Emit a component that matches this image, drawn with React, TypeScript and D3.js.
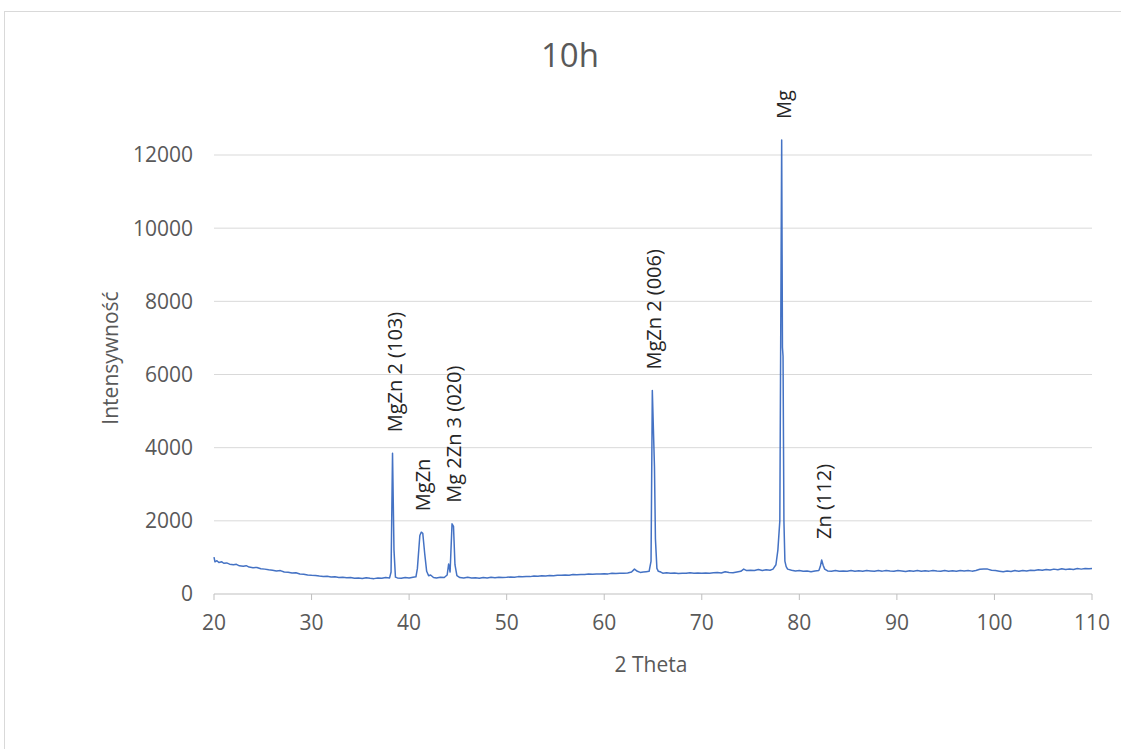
import React from "react";
import * as d3 from "d3";

// XRD scan after 10 h of milling: [2θ (deg), intensity (counts)]
const scan: [number, number][] = [
  [20.0, 1010], [20.1, 880], [20.3, 910], [20.5, 860], [20.8, 880], [21.0, 840], [21.3, 850], [21.6, 815],
  [22.0, 800], [22.3, 810], [22.6, 770], [23.0, 760], [23.3, 775], [23.6, 735], [24.0, 720], [24.4, 725],
  [24.8, 690], [25.2, 680], [25.6, 660], [26.0, 650], [26.4, 630], [26.8, 640], [27.2, 600], [27.6, 595],
  [28.0, 575], [28.4, 580], [28.8, 545], [29.2, 540], [29.6, 520], [30.0, 510], [30.4, 505], [30.8, 490],
  [31.2, 480], [31.6, 485], [32.0, 465], [32.4, 470], [32.8, 450], [33.2, 455], [33.6, 445], [34.0, 450],
  [34.4, 430], [34.8, 440], [35.2, 425], [35.6, 445], [36.0, 430], [36.4, 420], [36.8, 440], [37.2, 430],
  [37.6, 450], [38.0, 440], [38.15, 600], [38.3, 3845], [38.45, 1200], [38.6, 460], [38.8, 440], [39.2, 430],
  [39.6, 450], [40.0, 440], [40.4, 460], [40.7, 470], [40.85, 700], [41.1, 1600], [41.25, 1690], [41.4, 1660],
  [41.6, 1100], [41.8, 620], [42.0, 500], [42.2, 520], [42.5, 450], [42.8, 440], [43.2, 460], [43.6, 450],
  [43.9, 520], [44.05, 820], [44.2, 600], [44.4, 1920], [44.55, 1850], [44.7, 800], [44.9, 500], [45.2, 450],
  [45.6, 440], [46.0, 455], [46.4, 440], [46.8, 445], [47.2, 430], [47.6, 450], [48.0, 440], [48.4, 455],
  [48.8, 445], [49.2, 460], [49.6, 450], [50.0, 455], [50.4, 465], [50.8, 460], [51.2, 475], [51.6, 470],
  [52.0, 480], [52.4, 475], [52.8, 490], [53.2, 485], [53.6, 500], [54.0, 495], [54.4, 505], [54.8, 500],
  [55.2, 515], [55.6, 510], [56.0, 520], [56.4, 515], [56.8, 530], [57.2, 525], [57.6, 535], [58.0, 530],
  [58.4, 545], [58.8, 540], [59.2, 550], [59.6, 545], [60.0, 555], [60.4, 550], [60.8, 565], [61.2, 560],
  [61.6, 570], [62.0, 565], [62.4, 575], [62.8, 600], [63.1, 680], [63.4, 620], [63.7, 590], [64.0, 600],
  [64.3, 610], [64.6, 620], [64.8, 900], [64.93, 5560], [65.15, 3480], [65.25, 1500], [65.4, 700], [65.55, 620],
  [65.8, 600], [66.0, 570], [66.4, 580], [66.8, 570], [67.2, 575], [67.6, 560], [68.0, 570], [68.4, 565],
  [68.8, 580], [69.2, 570], [69.6, 575], [70.0, 565], [70.4, 575], [70.8, 570], [71.2, 580], [71.6, 590],
  [72.0, 575], [72.4, 610], [72.8, 590], [73.2, 580], [73.6, 600], [74.0, 620], [74.3, 680], [74.6, 640],
  [75.0, 650], [75.4, 640], [75.8, 670], [76.2, 640], [76.6, 660], [77.0, 650], [77.3, 680], [77.6, 800],
  [77.8, 1200], [78.0, 2000], [78.19, 12410], [78.27, 6740], [78.33, 6500], [78.42, 2000], [78.52, 900], [78.65, 750],
  [78.8, 680], [79.2, 650], [79.6, 630], [80.0, 640], [80.4, 620], [80.8, 630], [81.2, 610], [81.6, 630],
  [82.0, 640], [82.15, 750], [82.29, 930], [82.45, 780], [82.6, 680], [82.9, 630], [83.3, 620], [83.7, 640],
  [84.1, 620], [84.5, 630], [84.9, 625], [85.3, 640], [85.7, 620], [86.1, 635], [86.5, 625], [86.9, 640],
  [87.3, 630], [87.7, 620], [88.1, 640], [88.5, 625], [88.9, 645], [89.3, 630], [89.7, 620], [90.1, 640],
  [90.5, 630], [90.9, 615], [91.3, 635], [91.7, 625], [92.1, 640], [92.5, 620], [92.9, 635], [93.3, 625],
  [93.7, 645], [94.1, 630], [94.5, 620], [94.9, 640], [95.3, 625], [95.7, 635], [96.1, 620], [96.5, 640],
  [96.9, 630], [97.3, 645], [97.7, 625], [98.1, 640], [98.5, 675], [98.9, 685], [99.3, 680], [99.7, 650],
  [100.1, 640], [100.5, 625], [100.9, 610], [101.3, 630], [101.7, 615], [102.1, 640], [102.5, 620], [102.9, 645],
  [103.3, 630], [103.7, 650], [104.1, 640], [104.5, 660], [104.9, 650], [105.3, 670], [105.7, 655], [106.1, 680],
  [106.5, 665], [106.9, 690], [107.3, 670], [107.7, 685], [108.1, 670], [108.5, 695], [108.9, 680], [109.3, 700],
  [109.7, 690], [110.0, 700],
];

// Phase labels placed over their reflections: [label, 2θ, peak intensity]
const phaseLabels: [string, number, number][] = [
  ["MgZn 2 (103)", 38.3, 3845],
  ["MgZn", 41.25, 1690],
  ["Mg 2Zn 3 (020)", 44.4, 1920],
  ["MgZn 2 (006)", 64.93, 5560],
  ["Mg", 78.19, 12410],
  ["Zn (112)", 82.29, 930],
];

const xTicks = [20, 30, 40, 50, 60, 70, 80, 90, 100, 110];
const yTicks = [0, 2000, 4000, 6000, 8000, 10000, 12000];

const chartTitle = "10h";
const xTitle = "2 Theta";
const yTitle = "Intensywność";

const W = 1121;
const H = 749;
const FONT = "'Open Sans', 'Noto Sans', sans-serif";
const TEXT = "#595959";

export default function App() {
  const x = d3.scaleLinear().domain([20, 110]).range([214, 1092]);
  const y = d3.scaleLinear().domain([0, 12000]).range([594, 155]);
  const line = d3
    .line<[number, number]>()
    .x((d) => x(d[0]))
    .y((d) => y(d[1]));

  return (
    <svg
      width={W}
      height={H}
      style={{ position: "absolute", left: 0, top: 0, background: "#fff" }}
    >
      <rect x={4.5} y={11.5} width={W + 20} height={H + 20} fill="#fff" stroke="#d9d9d9" />
      <text x={570} y={67} textAnchor="middle" fontFamily={FONT} fontSize={33} fill={TEXT}>
        {chartTitle}
      </text>

      {yTicks.slice(1).map((t) => (
        <line key={`g${t}`} x1={x(20)} x2={x(110)} y1={y(t)} y2={y(t)} stroke="#d9d9d9" strokeWidth={1} />
      ))}
      <line x1={x(20)} x2={x(110)} y1={y(0)} y2={y(0)} stroke="#bfbfbf" strokeWidth={1} />
      {xTicks.map((t) => (
        <line key={`t${t}`} x1={x(t)} x2={x(t)} y1={y(0)} y2={y(0) + 6} stroke="#bfbfbf" strokeWidth={1} />
      ))}

      {yTicks.map((t) => (
        <text
          key={`yl${t}`}
          x={193}
          y={y(t)}
          dy="0.35em"
          textAnchor="end"
          fontFamily={FONT}
          fontSize={21}
          fill={TEXT}
        >
          {t}
        </text>
      ))}
      {xTicks.map((t) => (
        <text
          key={`xl${t}`}
          x={x(t)}
          y={623}
          dy="0.35em"
          textAnchor="middle"
          fontFamily={FONT}
          fontSize={21}
          fill={TEXT}
        >
          {t}
        </text>
      ))}

      <text x={651} y={665} dy="0.35em" textAnchor="middle" fontFamily={FONT} fontSize={21} fill={TEXT}>
        {xTitle}
      </text>
      <text
        transform={`translate(111, 358) rotate(-90)`}
        dy="0.35em"
        textAnchor="middle"
        fontFamily={FONT}
        fontSize={21}
        fill={TEXT}
      >
        {yTitle}
      </text>

      <path d={line(scan) ?? ""} fill="none" stroke="#4472c4" strokeWidth={1.5} strokeLinejoin="round" />

      {phaseLabels.map(([label, t, v]) => (
        <text
          key={label}
          transform={`translate(${x(t) + 2}, ${y(v) - 21}) rotate(-90)`}
          dy="0.35em"
          textAnchor="start"
          fontFamily={FONT}
          fontSize={20}
          fill="#262626"
        >
          {label}
        </text>
      ))}
    </svg>
  );
}
